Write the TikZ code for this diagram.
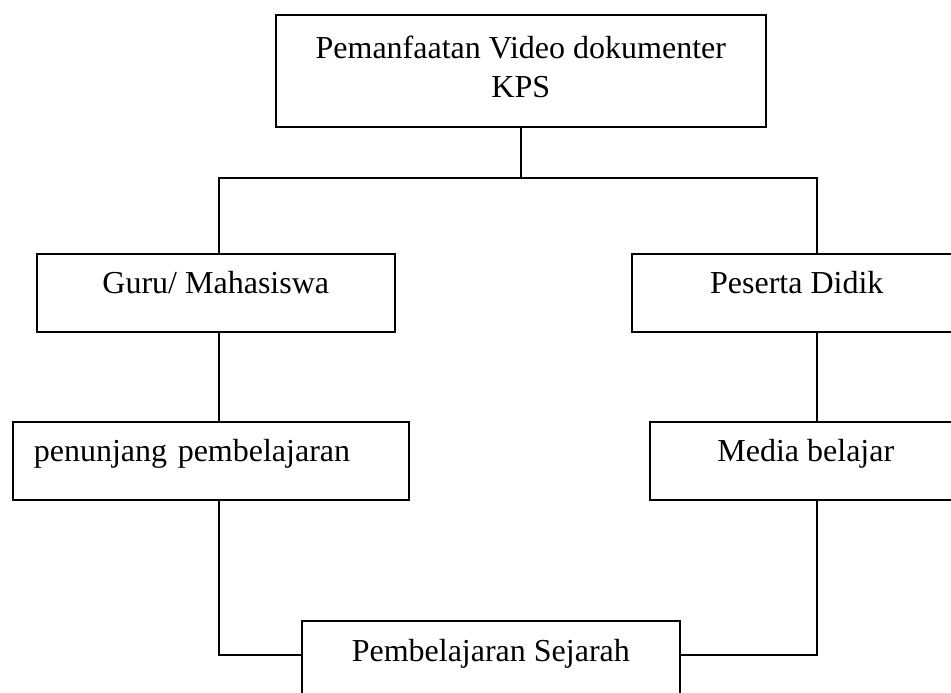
\documentclass[tikz,border=0pt]{standalone}
\usepackage{fontspec}
\setmainfont{Liberation Serif}
\begin{document}
\begin{tikzpicture}[x=1pt,y=-1pt,line width=1.6pt,
    kotak/.style={draw,anchor=north west,inner sep=0pt,minimum height=78pt,
      font=\fontsize{32}{34}\selectfont,text height=22pt,text depth=20pt}]
    \useasboundingbox (0,0) rectangle (951,693);
    \clip (0,0) rectangle (951,693);

    \node[kotak,minimum width=490pt,minimum height=112pt,align=center,
      font=\fontsize{32}{39}\selectfont,
      text height=62pt,text depth=8pt]                       (judul)     at (275,14)  {Pemanfaatan Video dokumenter\\KPS};
    \node[kotak,minimum width=358pt]                         (guru)      at (36,253)  {Guru/ Mahasiswa};
    \node[kotak,minimum width=330pt]                         (peserta)   at (631,253) {Peserta Didik};
    \node[kotak,text width=354pt,inner xsep=21pt,align=left,
      text height=21pt]                                      (penunjang) at (12,421)  {penunjang pembelajaran};
    \node[kotak,minimum width=312pt,text height=21pt]        (media)     at (649,421) {Media belajar};
    \node[kotak,minimum width=378pt,minimum height=100pt,
      text depth=40pt]                                       (sejarah)   at (301,620) {Pembelajaran Sejarah};

    \coordinate (simpulkiri)  at (219,178);
    \coordinate (simpulkanan) at (817,178);

    \draw (judul.south) -- (judul.south |- simpulkiri);
    \draw (guru.north -| simpulkiri) -- (simpulkiri) -- (simpulkanan) -- (peserta.north -| simpulkanan);
    \draw (guru.south -| simpulkiri) -- (penunjang.north -| simpulkiri);
    \draw (peserta.south -| simpulkanan) -- (media.north -| simpulkanan);
    \draw (penunjang.south -| simpulkiri) |- ([yshift=-35pt]sejarah.north west);
    \draw (media.south -| simpulkanan) |- ([yshift=-35pt]sejarah.north east);

  \end{tikzpicture}
\end{document}
